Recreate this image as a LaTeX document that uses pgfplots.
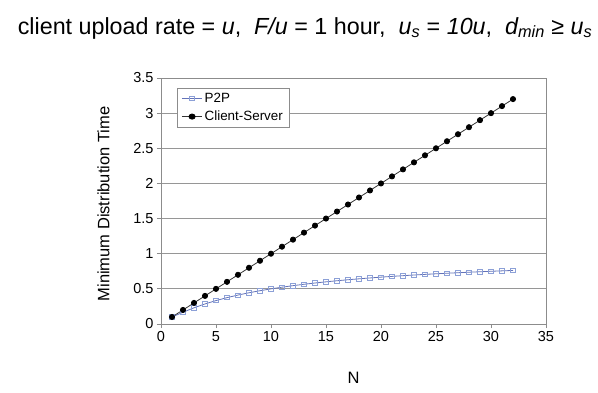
\documentclass[border=0pt]{standalone}
\usepackage{fontspec}
\setmainfont{Liberation Sans}
\usepackage{pgfplots}
\pgfplotsset{compat=1.18}
\definecolor{axgray}{RGB}{140,140,140}
\definecolor{gridgray}{RGB}{150,150,150}
\definecolor{p2pline}{RGB}{100,115,185}
\definecolor{p2pmark}{RGB}{140,160,215}
\begin{document}
\begin{tikzpicture}
\begin{axis}[
  scale only axis,
  width=385bp, height=246bp,
  xmin=0, xmax=35, ymin=0, ymax=3.5,
  xtick={0,5,...,35},
  ytick={0,0.5,...,3.5},
  /pgf/number format/assume math mode=true,
  /pgf/number format/fixed,
  ticklabel style={font=\fontsize{14.5bp}{16bp}\selectfont},
  ymajorgrids,
  grid style={gridgray, line width=0.8pt},
  axis line style={axgray!50, line width=0.6pt},
  separate axis lines,
  x axis line style={axgray, line width=1pt},
  y axis line style={axgray, line width=1pt},
  tick style={axgray, line width=0.8pt},
  tick align=outside,
  major tick length=4bp,
  xtick pos=bottom, ytick pos=left,
  xlabel={N}, ylabel={Minimum Distribution Time},
  label style={font=\fontsize{16.5bp}{18bp}\selectfont},
  xlabel style={at={(axis description cs:0.5,0)}, anchor=center, yshift=-54bp},
  ylabel style={at={(axis description cs:0,0.5)}, anchor=center, yshift=57.5bp, xshift=-3bp},
  legend style={at={(axis description cs:0.042,0.96)}, anchor=north west,
    draw=axgray, line width=0.6pt, font=\fontsize{13.4bp}{15bp}\selectfont,
    row sep=3bp, inner sep=3bp, inner xsep=4bp},
  legend image post style={xscale=1.2},
  legend cell align=left,
]
\addplot[p2pline, line width=0.8pt, mark=square, mark size=2.2bp,
  mark options={p2pmark, line width=0.7pt, fill=white}] coordinates {
(1,0.1) (2,0.1667) (3,0.2308) (4,0.2857) (5,0.3333) (6,0.375) (7,0.4118) (8,0.4444)
(9,0.4737) (10,0.5) (11,0.5238) (12,0.5455) (13,0.5652) (14,0.5833) (15,0.6) (16,0.6154)
(17,0.6296) (18,0.6429) (19,0.6552) (20,0.6667) (21,0.6774) (22,0.6875) (23,0.6970) (24,0.7059)
(25,0.7143) (26,0.7222) (27,0.7297) (28,0.7368) (29,0.7436) (30,0.75) (31,0.7561) (32,0.7619)
};
\addlegendentry{P2P}
\addplot[black!80, line width=0.8pt, mark=*, mark size=2.6bp,
  mark options={black, fill=black}] coordinates {
(1,0.1) (2,0.2) (3,0.3) (4,0.4) (5,0.5) (6,0.6) (7,0.7) (8,0.8)
(9,0.9) (10,1.0) (11,1.1) (12,1.2) (13,1.3) (14,1.4) (15,1.5) (16,1.6)
(17,1.7) (18,1.8) (19,1.9) (20,2.0) (21,2.1) (22,2.2) (23,2.3) (24,2.4)
(25,2.5) (26,2.6) (27,2.7) (28,2.8) (29,2.9) (30,3.0) (31,3.1) (32,3.2)
};
\addlegendentry{Client-Server}
\end{axis}
\node[anchor=center, font=\fontsize{23.3bp}{26bp}\selectfont, inner sep=0pt] at (144bp,296bp)
  {client upload rate = \textit{u},\ \ \textit{F/u} = 1 hour,\ \ \textit{u\textsubscript{s}} = \textit{10u},\ \ \textit{d\textsubscript{min}} ≥ \textit{u\textsubscript{s}}};
\pgfresetboundingbox
\path[use as bounding box] (-161bp,-69bp) rectangle (437bp,324bp);
\end{tikzpicture}
\end{document}
